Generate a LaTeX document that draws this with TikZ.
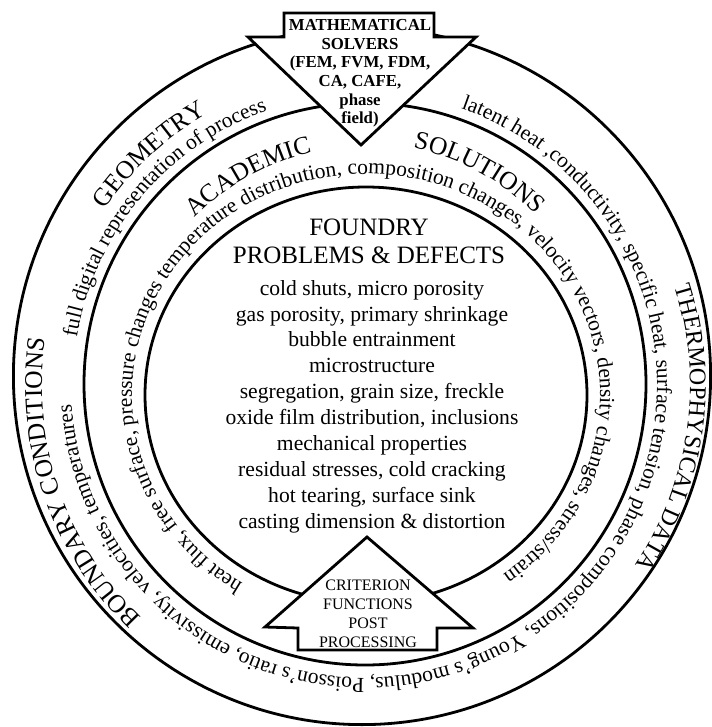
\documentclass[tikz,border=0pt]{standalone}
\usepackage{fontspec}
\setmainfont{Liberation Serif}
\usetikzlibrary{decorations.text}
\newcommand\smallring{\fontsize{21.5}{21.5}\selectfont}
\newcommand\bigring{\fontsize{25.5}{25.5}\selectfont}
\newcommand\thermofont{\fontsize{24}{24}\selectfont}
\begin{document}
\begin{tikzpicture}[x=1pt,y=1pt,
  ring/.style={line width=2.8pt},
  arrowshape/.style={draw, line width=2.8pt, fill=white, line join=miter},
  ringtext/.style={decorate, decoration={text along path, text align=center, text={#1}}},
  ]
\useasboundingbox (0,0) rectangle (711,-727);
\fill[white] (0,0) rectangle (711,-727);
\coordinate (C) at (364,-385);
\coordinate (E) at (366,-395);
% rings
\draw[ring] (362,-376) circle[radius=348.6];
\draw[ring] (365,-384) circle[radius=281];
\draw[ring] (E) ellipse[x radius=221, y radius=208];
% arrows
\draw[arrowshape] (284,-13) -- (434,-13) -- (434,-37) -- (476,-37) -- (361,-145) -- (248,-37) -- (284,-37) -- cycle;
\draw[arrowshape] (367,-537) -- (473,-628) -- (437,-628) -- (437,-650) -- (298,-650) -- (298,-628) -- (265,-627) -- cycle;
% outer ring texts
\path[ringtext={|\bigring|GEOMETRY}] (C) ++(173:313) arc[start angle=173, end angle=93, radius=313];
\path[ringtext={|\smallring|full digital representation of process}] (C) ++(200:291) arc[start angle=200, end angle=80, radius=291];
\path[ringtext={|\bigring|BOUNDARY CONDITIONS}] (C) ++(259:322) arc[start angle=259, end angle=139, radius=322];
\path[ringtext={|\thermofont|THERMOPHYSICAL DATA}] (C) ++(52:326) arc[start angle=52, end angle=-68, radius=326];
\path[ringtext={|\smallring|latent heat ,conductivity, specific heat, surface tension, phase compositions, Young's modulus, Poisson's ratio, emissivity, velocities, temperatures}] (C) ++(82.25:293) arc[start angle=82.25, end angle=-187.75, radius=293];
% inner ring texts
\path[ringtext={|\bigring|ACADEMIC}] (C) ++(159:238) arc[start angle=159, end angle=79, radius=238];
\path[ringtext={|\bigring|SOLUTIONS}] (C) ++(101.5:242) arc[start angle=101.5, end angle=21.5, radius=242];
\path[ringtext={|\smallring|heat flux, free surface, pressure changes temperature distribution, composition changes, velocity vectors, density changes, stress/strain}] (E) ++(252:234 and 221) arc[start angle=252, end angle=-68, x radius=234, y radius=221];
% centre
\node[font=\fontsize{25}{28}\selectfont, align=center] (hdr) at (369,-241) {FOUNDRY\\PROBLEMS \& DEFECTS};
\node[font=\fontsize{21.6}{25.9}\selectfont, align=center] (body) at (372,-406.5) {cold shuts, micro porosity\\gas porosity, primary shrinkage\\bubble entrainment\\microstructure\\segregation, grain size, freckle\\oxide film distribution, inclusions\\mechanical properties\\residual stresses, cold cracking\\hot tearing, surface sink\\casting dimension \& distortion};
% arrow texts
\node[font=\fontsize{16.8}{18.6}\selectfont\bfseries, align=center] (solvers) at (360,-73.5) {MATHEMATICAL\\SOLVERS\\(FEM, FVM, FDM,\\CA, CAFE,\\phase\\field)};
\node[font=\fontsize{16}{19}\selectfont, align=center] (crit) at (368,-613.5) {CRITERION\\FUNCTIONS\\POST\\PROCESSING};
\end{tikzpicture}
\end{document}
